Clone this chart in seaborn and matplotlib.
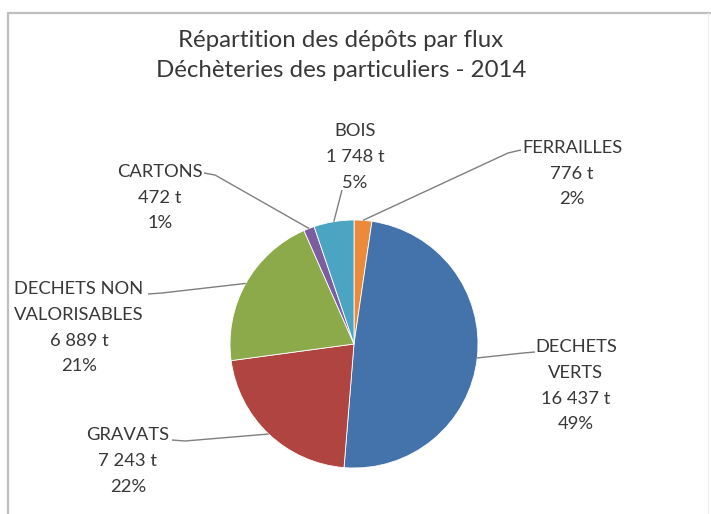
import numpy as np
import matplotlib.pyplot as plt
import seaborn as sns

# Data: deposits per stream, 2014 (tonnes)
categories = ['FERRAILLES', 'DECHETS VERTS', 'GRAVATS', 'DECHETS NON VALORISABLES', 'CARTONS', 'BOIS']
label_names = ['FERRAILLES', 'DECHETS\nVERTS', 'GRAVATS', 'DECHETS NON\nVALORISABLES', 'CARTONS', 'BOIS']
tonnes = [776, 16437, 7243, 6889, 472, 1748]
colors = ['#EB8A3A', '#4472AA', '#B04441', '#8DAA4B', '#7C5EA0', '#4BA5C2']
title = 'Répartition des dépôts par flux\nDéchèteries des particuliers - 2014'

W, H = 711, 514

sns.set_theme(style='white')
plt.rcParams['font.family'] = ['Lato', 'DejaVu Sans']
text_color = '#383838'
line_color = '#7F7F7F'

fig = plt.figure(figsize=(W / 100, H / 100), dpi=100)
ax = fig.add_axes([0, 0, 1, 1])

# pie in pixel units (y measured from bottom)
cx, cy, r = 354, H - 344, 124
wedges, _ = ax.pie(tonnes, colors=colors, startangle=90, counterclock=False,
                   center=(cx, cy), radius=r,
                   wedgeprops={'edgecolor': 'white', 'linewidth': 0.6})
ax.set_xlim(0, W)
ax.set_ylim(0, H)
ax.set_aspect('equal')
ax.axis('off')

# label layout in pixels from top: text top-center, leader tail towards text
layout = {
    'FERRAILLES': dict(xy=(572, 140), tail=[(508, 153), (521, 150)]),
    'DECHETS VERTS': dict(xy=(576, 339), tail=[(523, 353), (535, 352)]),
    'GRAVATS': dict(xy=(128, 427), tail=[(185, 441), (172, 440)]),
    'DECHETS NON VALORISABLES': dict(xy=(79, 281), tail=[(162, 293), (148, 294)]),
    'CARTONS': dict(xy=(160, 164), tail=[(215, 175), (204, 173)]),
    'BOIS': dict(xy=(355, 123), tail=[(342, 190)]),
}

total = sum(tonnes)
for wedge, cat, name, val in zip(wedges, categories, label_names, tonnes):
    pct = round(100 * val / total)
    txt = f"{name}\n{val:,} t\n{pct}%".replace(',', ' ')
    lay = layout[cat]
    x, y = lay['xy']
    ax.text(x, H - y, txt, ha='center', va='top', fontsize=13.2,
            color=text_color, linespacing=1.75)
    # leader from wedge edge (mid angle) to the label
    ang = np.deg2rad((wedge.theta1 + wedge.theta2) / 2)
    pts = [(cx + r * np.cos(ang), cy + r * np.sin(ang))]
    pts += [(px, H - py) for px, py in lay['tail']]
    ax.plot([p[0] for p in pts], [p[1] for p in pts], color=line_color, lw=1.0,
            solid_capstyle='butt')

ax.text(341, H - 30, title, ha='center', va='top', fontsize=17.3,
        color=text_color, linespacing=1.55)

# chart frame
ax.plot([8, W], [H - 13, H - 13], color='#BFBFBF', lw=1.6)
ax.plot([8, 8], [0, H - 13], color='#BFBFBF', lw=1.6)
ax.plot([708, 708], [0, H - 13], color='#F0F0F0', lw=1.0)

fig.savefig('out.png', dpi=100)
